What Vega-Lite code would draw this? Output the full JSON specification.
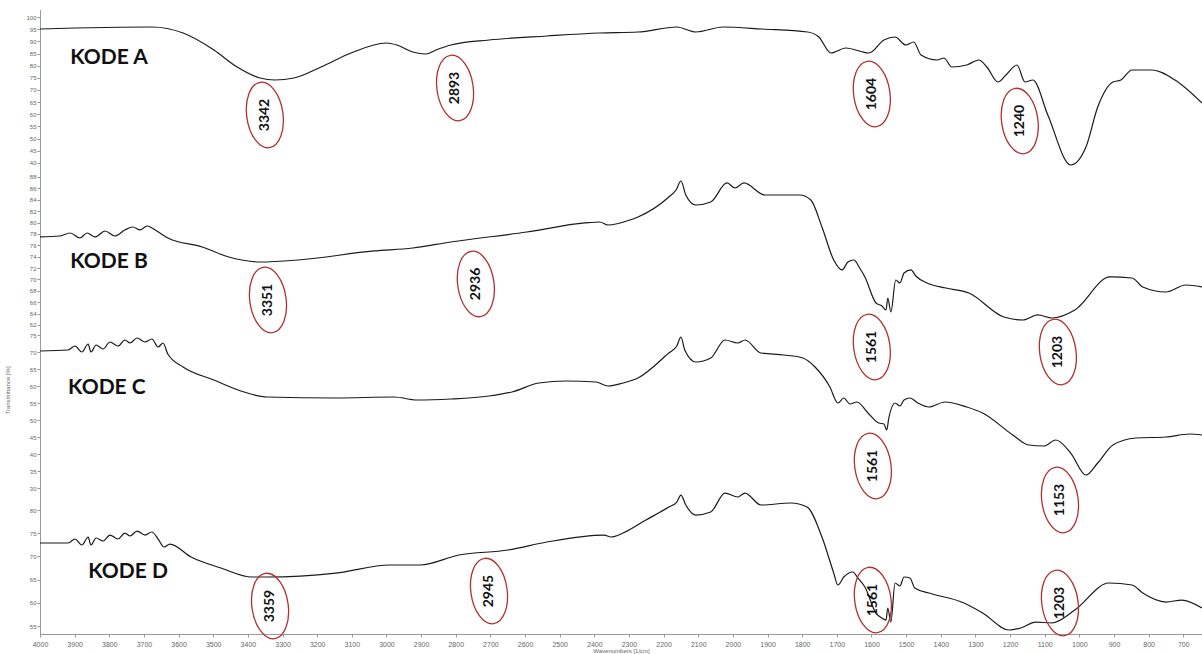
{
  "$schema": "https://vega.github.io/schema/vega-lite/v6.json",
  "width": 1162,
  "height": 624,
  "autosize": {"type": "none"},
  "padding": {"left": 40, "top": 10, "right": 0, "bottom": 20},
  "background": "white",
  "config": {
    "view": {"stroke": null},
    "axis": {"grid": false, "labelFont": "Liberation Sans", "labelColor": "#666", "domainColor": "#999", "tickColor": "#999", "titleFont": "Liberation Sans", "titleColor": "#666", "titleFontWeight": "normal"}
  },
  "datasets": {
    "spectra": [
      {"s":"A","wavenumber":4000,"value":95.07},{"s":"A","wavenumber":3677,"value":95.89},{"s":"A","wavenumber":3587,"value":93.42},{"s":"A","wavenumber":3498,"value":86.44},{"s":"A","wavenumber":3431,"value":79.45},{"s":"A","wavenumber":3365,"value":74.93},{"s":"A","wavenumber":3322,"value":74.11},{"s":"A","wavenumber":3267,"value":74.93},{"s":"A","wavenumber":3189,"value":79.45},{"s":"A","wavenumber":3102,"value":85.2},{"s":"A","wavenumber":3001,"value":89.31},{"s":"A","wavenumber":2970,"value":88.49},{"s":"A","wavenumber":2924,"value":85.61},{"s":"A","wavenumber":2886,"value":84.79},{"s":"A","wavenumber":2857,"value":86.44},{"s":"A","wavenumber":2814,"value":88.49},{"s":"A","wavenumber":2704,"value":90.55},{"s":"A","wavenumber":2537,"value":92.19},{"s":"A","wavenumber":2384,"value":93.42},{"s":"A","wavenumber":2274,"value":93.83},{"s":"A","wavenumber":2162,"value":95.89},{"s":"A","wavenumber":2107,"value":93.83},{"s":"A","wavenumber":2029,"value":95.89},{"s":"A","wavenumber":1916,"value":95.07},{"s":"A","wavenumber":1784,"value":93.83},{"s":"A","wavenumber":1752,"value":91.78},{"s":"A","wavenumber":1717,"value":85.2},{"s":"A","wavenumber":1674,"value":87.26},{"s":"A","wavenumber":1607,"value":85.2},{"s":"A","wavenumber":1564,"value":90.55},{"s":"A","wavenumber":1532,"value":91.78},{"s":"A","wavenumber":1501,"value":88.49},{"s":"A","wavenumber":1478,"value":89.72},{"s":"A","wavenumber":1457,"value":84.38},{"s":"A","wavenumber":1411,"value":82.33},{"s":"A","wavenumber":1391,"value":83.15},{"s":"A","wavenumber":1368,"value":79.45},{"s":"A","wavenumber":1325,"value":80.27},{"s":"A","wavenumber":1290,"value":82.33},{"s":"A","wavenumber":1267,"value":79.45},{"s":"A","wavenumber":1235,"value":73.28},{"s":"A","wavenumber":1212,"value":76.16},{"s":"A","wavenumber":1180,"value":80.27},{"s":"A","wavenumber":1157,"value":73.28},{"s":"A","wavenumber":1134,"value":74.11},{"s":"A","wavenumber":1091,"value":59.72},{"s":"A","wavenumber":1025,"value":39.17},{"s":"A","wavenumber":981,"value":46.57},{"s":"A","wavenumber":947,"value":63.01},{"s":"A","wavenumber":903,"value":73.28},{"s":"A","wavenumber":880,"value":74.11},{"s":"A","wavenumber":848,"value":78.22},{"s":"A","wavenumber":791,"value":78.22},{"s":"A","wavenumber":724,"value":74.11},{"s":"A","wavenumber":646,"value":64.65},

      {"s":"B","wavenumber":4000,"value":77.46},{"s":"B","wavenumber":3942,"value":77.63},{"s":"B","wavenumber":3913,"value":78.16},{"s":"B","wavenumber":3885,"value":77.28},{"s":"B","wavenumber":3864,"value":78.16},{"s":"B","wavenumber":3841,"value":77.46},{"s":"B","wavenumber":3812,"value":78.51},{"s":"B","wavenumber":3784,"value":77.63},{"s":"B","wavenumber":3755,"value":78.69},{"s":"B","wavenumber":3732,"value":79.21},{"s":"B","wavenumber":3711,"value":78.69},{"s":"B","wavenumber":3691,"value":79.39},{"s":"B","wavenumber":3677,"value":79.04},{"s":"B","wavenumber":3654,"value":78.16},{"s":"B","wavenumber":3631,"value":77.28},{"s":"B","wavenumber":3532,"value":75.7},{"s":"B","wavenumber":3455,"value":73.94},{"s":"B","wavenumber":3365,"value":73.06},{"s":"B","wavenumber":3255,"value":73.41},{"s":"B","wavenumber":3036,"value":75.0},{"s":"B","wavenumber":2924,"value":75.52},{"s":"B","wavenumber":2814,"value":76.58},{"s":"B","wavenumber":2595,"value":78.33},{"s":"B","wavenumber":2427,"value":79.92},{"s":"B","wavenumber":2384,"value":80.09},{"s":"B","wavenumber":2361,"value":79.56},{"s":"B","wavenumber":2297,"value":80.44},{"s":"B","wavenumber":2274,"value":80.97},{"s":"B","wavenumber":2185,"value":84.49},{"s":"B","wavenumber":2164,"value":85.72},{"s":"B","wavenumber":2150,"value":87.3},{"s":"B","wavenumber":2136,"value":84.84},{"s":"B","wavenumber":2107,"value":83.08},{"s":"B","wavenumber":2064,"value":83.61},{"s":"B","wavenumber":2017,"value":86.95},{"s":"B","wavenumber":1994,"value":86.07},{"s":"B","wavenumber":1968,"value":86.95},{"s":"B","wavenumber":1908,"value":84.84},{"s":"B","wavenumber":1807,"value":84.84},{"s":"B","wavenumber":1775,"value":83.96},{"s":"B","wavenumber":1743,"value":79.21},{"s":"B","wavenumber":1709,"value":73.41},{"s":"B","wavenumber":1685,"value":71.66},{"s":"B","wavenumber":1668,"value":73.06},{"s":"B","wavenumber":1651,"value":73.41},{"s":"B","wavenumber":1634,"value":72.01},{"s":"B","wavenumber":1619,"value":70.43},{"s":"B","wavenumber":1587,"value":65.86},{"s":"B","wavenumber":1570,"value":65.33},{"s":"B","wavenumber":1558,"value":64.63},{"s":"B","wavenumber":1553,"value":66.73},{"s":"B","wavenumber":1544,"value":64.27},{"s":"B","wavenumber":1530,"value":69.9},{"s":"B","wavenumber":1518,"value":69.37},{"s":"B","wavenumber":1506,"value":71.13},{"s":"B","wavenumber":1486,"value":71.66},{"s":"B","wavenumber":1472,"value":70.6},{"s":"B","wavenumber":1440,"value":69.37},{"s":"B","wavenumber":1385,"value":68.49},{"s":"B","wavenumber":1319,"value":67.61},{"s":"B","wavenumber":1218,"value":63.4},{"s":"B","wavenumber":1163,"value":62.87},{"s":"B","wavenumber":1120,"value":63.75},{"s":"B","wavenumber":1079,"value":63.22},{"s":"B","wavenumber":1013,"value":64.63},{"s":"B","wavenumber":912,"value":70.43},{"s":"B","wavenumber":848,"value":70.25},{"s":"B","wavenumber":817,"value":68.67},{"s":"B","wavenumber":750,"value":67.79},{"s":"B","wavenumber":693,"value":69.02},{"s":"B","wavenumber":646,"value":68.67},

      {"s":"C","wavenumber":4000,"value":70.29},{"s":"C","wavenumber":3919,"value":70.59},{"s":"C","wavenumber":3899,"value":71.76},{"s":"C","wavenumber":3879,"value":70.0},{"s":"C","wavenumber":3861,"value":72.35},{"s":"C","wavenumber":3853,"value":70.0},{"s":"C","wavenumber":3838,"value":72.06},{"s":"C","wavenumber":3818,"value":70.88},{"s":"C","wavenumber":3798,"value":72.94},{"s":"C","wavenumber":3775,"value":71.76},{"s":"C","wavenumber":3755,"value":73.53},{"s":"C","wavenumber":3740,"value":72.65},{"s":"C","wavenumber":3720,"value":74.12},{"s":"C","wavenumber":3697,"value":72.94},{"s":"C","wavenumber":3677,"value":73.82},{"s":"C","wavenumber":3659,"value":71.47},{"s":"C","wavenumber":3645,"value":72.65},{"s":"C","wavenumber":3631,"value":69.41},{"s":"C","wavenumber":3587,"value":65.59},{"s":"C","wavenumber":3498,"value":61.76},{"s":"C","wavenumber":3411,"value":58.24},{"s":"C","wavenumber":3345,"value":56.76},{"s":"C","wavenumber":3146,"value":56.47},{"s":"C","wavenumber":2978,"value":56.76},{"s":"C","wavenumber":2912,"value":55.88},{"s":"C","wavenumber":2814,"value":56.18},{"s":"C","wavenumber":2704,"value":57.06},{"s":"C","wavenumber":2638,"value":58.24},{"s":"C","wavenumber":2560,"value":60.88},{"s":"C","wavenumber":2482,"value":61.47},{"s":"C","wavenumber":2395,"value":61.18},{"s":"C","wavenumber":2361,"value":60.0},{"s":"C","wavenumber":2317,"value":60.88},{"s":"C","wavenumber":2274,"value":62.35},{"s":"C","wavenumber":2185,"value":69.71},{"s":"C","wavenumber":2162,"value":71.76},{"s":"C","wavenumber":2150,"value":74.41},{"s":"C","wavenumber":2139,"value":70.59},{"s":"C","wavenumber":2107,"value":67.06},{"s":"C","wavenumber":2064,"value":68.24},{"s":"C","wavenumber":2023,"value":73.53},{"s":"C","wavenumber":1986,"value":72.65},{"s":"C","wavenumber":1965,"value":73.53},{"s":"C","wavenumber":1919,"value":69.71},{"s":"C","wavenumber":1853,"value":69.12},{"s":"C","wavenumber":1798,"value":68.24},{"s":"C","wavenumber":1763,"value":65.59},{"s":"C","wavenumber":1720,"value":59.71},{"s":"C","wavenumber":1697,"value":55.0},{"s":"C","wavenumber":1680,"value":56.47},{"s":"C","wavenumber":1662,"value":54.71},{"s":"C","wavenumber":1642,"value":55.29},{"s":"C","wavenumber":1610,"value":52.06},{"s":"C","wavenumber":1579,"value":49.12},{"s":"C","wavenumber":1564,"value":48.82},{"s":"C","wavenumber":1556,"value":47.06},{"s":"C","wavenumber":1550,"value":50.59},{"s":"C","wavenumber":1532,"value":55.0},{"s":"C","wavenumber":1518,"value":54.12},{"s":"C","wavenumber":1506,"value":55.88},{"s":"C","wavenumber":1489,"value":56.47},{"s":"C","wavenumber":1466,"value":55.0},{"s":"C","wavenumber":1434,"value":53.82},{"s":"C","wavenumber":1388,"value":55.29},{"s":"C","wavenumber":1325,"value":53.82},{"s":"C","wavenumber":1279,"value":52.06},{"s":"C","wavenumber":1192,"value":45.59},{"s":"C","wavenumber":1146,"value":42.65},{"s":"C","wavenumber":1102,"value":42.35},{"s":"C","wavenumber":1068,"value":44.12},{"s":"C","wavenumber":1025,"value":40.29},{"s":"C","wavenumber":981,"value":33.82},{"s":"C","wavenumber":947,"value":37.35},{"s":"C","wavenumber":903,"value":42.65},{"s":"C","wavenumber":837,"value":44.71},{"s":"C","wavenumber":750,"value":45.0},{"s":"C","wavenumber":681,"value":45.88},{"s":"C","wavenumber":646,"value":45.59},

      {"s":"D","wavenumber":4000,"value":72.89},{"s":"D","wavenumber":3919,"value":72.89},{"s":"D","wavenumber":3899,"value":73.75},{"s":"D","wavenumber":3879,"value":72.46},{"s":"D","wavenumber":3861,"value":74.18},{"s":"D","wavenumber":3853,"value":72.46},{"s":"D","wavenumber":3838,"value":73.97},{"s":"D","wavenumber":3818,"value":73.32},{"s":"D","wavenumber":3798,"value":74.61},{"s":"D","wavenumber":3775,"value":73.75},{"s":"D","wavenumber":3755,"value":75.04},{"s":"D","wavenumber":3740,"value":74.4},{"s":"D","wavenumber":3720,"value":75.47},{"s":"D","wavenumber":3697,"value":74.61},{"s":"D","wavenumber":3677,"value":75.26},{"s":"D","wavenumber":3659,"value":73.75},{"s":"D","wavenumber":3642,"value":72.03},{"s":"D","wavenumber":3625,"value":72.67},{"s":"D","wavenumber":3564,"value":69.87},{"s":"D","wavenumber":3478,"value":67.5},{"s":"D","wavenumber":3388,"value":65.56},{"s":"D","wavenumber":3345,"value":65.56},{"s":"D","wavenumber":3146,"value":66.42},{"s":"D","wavenumber":2990,"value":68.15},{"s":"D","wavenumber":2903,"value":68.15},{"s":"D","wavenumber":2791,"value":70.3},{"s":"D","wavenumber":2649,"value":71.38},{"s":"D","wavenumber":2537,"value":73.1},{"s":"D","wavenumber":2372,"value":74.61},{"s":"D","wavenumber":2352,"value":74.18},{"s":"D","wavenumber":2317,"value":75.04},{"s":"D","wavenumber":2251,"value":77.84},{"s":"D","wavenumber":2185,"value":80.65},{"s":"D","wavenumber":2162,"value":81.72},{"s":"D","wavenumber":2150,"value":83.23},{"s":"D","wavenumber":2136,"value":81.08},{"s":"D","wavenumber":2107,"value":78.92},{"s":"D","wavenumber":2064,"value":79.57},{"s":"D","wavenumber":2023,"value":83.66},{"s":"D","wavenumber":1986,"value":82.8},{"s":"D","wavenumber":1965,"value":83.66},{"s":"D","wavenumber":1919,"value":81.08},{"s":"D","wavenumber":1833,"value":81.51},{"s":"D","wavenumber":1786,"value":80.65},{"s":"D","wavenumber":1743,"value":74.18},{"s":"D","wavenumber":1709,"value":66.42},{"s":"D","wavenumber":1697,"value":63.84},{"s":"D","wavenumber":1680,"value":65.56},{"s":"D","wavenumber":1654,"value":66.64},{"s":"D","wavenumber":1639,"value":65.34},{"s":"D","wavenumber":1619,"value":63.41},{"s":"D","wavenumber":1587,"value":57.8},{"s":"D","wavenumber":1570,"value":56.72},{"s":"D","wavenumber":1558,"value":56.29},{"s":"D","wavenumber":1553,"value":58.88},{"s":"D","wavenumber":1544,"value":55.86},{"s":"D","wavenumber":1532,"value":64.27},{"s":"D","wavenumber":1518,"value":63.62},{"s":"D","wavenumber":1506,"value":65.56},{"s":"D","wavenumber":1489,"value":65.34},{"s":"D","wavenumber":1475,"value":63.19},{"s":"D","wavenumber":1434,"value":62.11},{"s":"D","wavenumber":1333,"value":59.96},{"s":"D","wavenumber":1279,"value":57.8},{"s":"D","wavenumber":1203,"value":54.14},{"s":"D","wavenumber":1169,"value":54.57},{"s":"D","wavenumber":1126,"value":55.86},{"s":"D","wavenumber":1079,"value":55.65},{"s":"D","wavenumber":1013,"value":58.45},{"s":"D","wavenumber":915,"value":64.27},{"s":"D","wavenumber":848,"value":63.84},{"s":"D","wavenumber":817,"value":62.11},{"s":"D","wavenumber":750,"value":60.17},{"s":"D","wavenumber":704,"value":60.6},{"s":"D","wavenumber":646,"value":58.88}
    ],
    "peaks": [
      {"s":"A","wavenumber":3351,"value":59.72,"label":"3342"},
      {"s":"A","wavenumber":2802,"value":70.82,"label":"2893"},
      {"s":"A","wavenumber":1599,"value":68.35,"label":"1604"},
      {"s":"A","wavenumber":1172,"value":57.25,"label":"1240"},
      {"s":"B","wavenumber":3342,"value":66.38,"label":"3351"},
      {"s":"B","wavenumber":2742,"value":69.2,"label":"2936"},
      {"s":"B","wavenumber":1599,"value":58.12,"label":"1561"},
      {"s":"B","wavenumber":1062,"value":57.24,"label":"1203"},
      {"s":"C","wavenumber":1596,"value":36.47,"label":"1561"},
      {"s":"C","wavenumber":1056,"value":26.47,"label":"1153"},
      {"s":"D","wavenumber":3336,"value":59.31,"label":"3359"},
      {"s":"D","wavenumber":2704,"value":62.54,"label":"2945"},
      {"s":"D","wavenumber":1596,"value":60.6,"label":"1561"},
      {"s":"D","wavenumber":1056,"value":59.96,"label":"1203"}
    ],
    "codes": [
      {"s":"A","wavenumber":3913,"value":83.15,"label":"KODE A"},
      {"s":"B","wavenumber":3913,"value":73.06,"label":"KODE B"},
      {"s":"C","wavenumber":3919,"value":59.41,"label":"KODE C"},
      {"s":"D","wavenumber":3861,"value":66.64,"label":"KODE D"}
    ]
  },
  "encoding": {
    "x": {
      "field": "wavenumber", "type": "quantitative",
      "scale": {"domain": [4000, 646], "nice": false, "zero": false},
      "axis": {
        "values": [4000,3900,3800,3700,3600,3500,3400,3300,3200,3100,3000,2900,2800,2700,2600,2500,2400,2300,2200,2100,2000,1900,1800,1700,1600,1500,1400,1300,1200,1100,1000,900,800,700],
        "format": "d",
        "title": "Wavenumbers [1/cm]", "titleFontSize": 6, "titlePadding": 0,
        "labelFontSize": 7, "tickSize": 3, "labelPadding": 3, "labelFlush": false, "labelOverlap": false
      }
    }
  },
  "layer": [
    {
      "encoding": {"y": {"field": "value", "type": "quantitative", "scale": {"domain": [-153.59, 102.88], "nice": false, "zero": false},
        "axis": {"orient": "left", "values": [40,45,50,55,60,65,70,75,80,85,90,95,100], "title": null, "labelFontSize": 6, "tickSize": 3, "labelPadding": 1}}},
      "layer": [
        {"data": {"name": "spectra"}, "transform": [{"filter": "datum.s === 'A'"}], "mark": {"type": "line", "color": "#1a1a1a", "strokeWidth": 1.2, "interpolate": "monotone", "clip": true}, "encoding": {}},
        {"data": {"name": "peaks"}, "transform": [{"filter": "datum.s === 'A'"}], "mark": {"type": "point", "shape": "M0,-1 A0.55,1 0 1,1 0,1 A0.55,1 0 1,1 0,-1 Z", "size": 4356, "filled": false, "stroke": "#b03030", "strokeWidth": 1.3, "opacity": 1, "angle": -8}, "encoding": {}},
        {"data": {"name": "peaks"}, "transform": [{"filter": "datum.s === 'A'"}], "mark": {"type": "text", "angle": 270, "font": "Lato", "fontSize": 14, "fontWeight": "bold", "color": "#111", "align": "center", "baseline": "middle"}, "encoding": {"text": {"field": "label"}}},
        {"data": {"name": "codes"}, "transform": [{"filter": "datum.s === 'A'"}], "mark": {"type": "text", "font": "Lato", "fontSize": 21, "fontWeight": "bold", "color": "#111", "align": "left", "baseline": "middle"}, "encoding": {"text": {"field": "label"}}}
      ]
    },
    {
      "encoding": {"y": {"field": "value", "type": "quantitative", "scale": {"domain": [7.68, 117.35], "nice": false, "zero": false},
        "axis": {"orient": "left", "values": [62,64,66,68,70,72,74,76,78,80,82,84,86,88], "title": null, "labelFontSize": 6, "tickSize": 3, "labelPadding": 1}}},
      "layer": [
        {"data": {"name": "spectra"}, "transform": [{"filter": "datum.s === 'B'"}], "mark": {"type": "line", "color": "#1a1a1a", "strokeWidth": 1.2, "interpolate": "monotone", "clip": true}, "encoding": {}},
        {"data": {"name": "peaks"}, "transform": [{"filter": "datum.s === 'B'"}], "mark": {"type": "point", "shape": "M0,-1 A0.55,1 0 1,1 0,1 A0.55,1 0 1,1 0,-1 Z", "size": 4356, "filled": false, "stroke": "#b03030", "strokeWidth": 1.3, "opacity": 1, "angle": -8}, "encoding": {}},
        {"data": {"name": "peaks"}, "transform": [{"filter": "datum.s === 'B'"}], "mark": {"type": "text", "angle": 270, "font": "Lato", "fontSize": 14, "fontWeight": "bold", "color": "#111", "align": "center", "baseline": "middle"}, "encoding": {"text": {"field": "label"}}},
        {"data": {"name": "codes"}, "transform": [{"filter": "datum.s === 'B'"}], "mark": {"type": "text", "font": "Lato", "fontSize": 21, "fontWeight": "bold", "color": "#111", "align": "left", "baseline": "middle"}, "encoding": {"text": {"field": "label"}}}
      ]
    },
    {
      "encoding": {"y": {"field": "value", "type": "quantitative", "scale": {"domain": [-12.94, 170.59], "nice": false, "zero": false},
        "axis": {"orient": "left", "values": [30,35,40,45,50,55,60,65,70,75], "title": "Transmittance [%]", "titleFontSize": 6, "titleX": -30, "titleY": 380, "labelFontSize": 6, "tickSize": 3, "labelPadding": 1}}},
      "layer": [
        {"data": {"name": "spectra"}, "transform": [{"filter": "datum.s === 'C'"}], "mark": {"type": "line", "color": "#1a1a1a", "strokeWidth": 1.2, "interpolate": "monotone", "clip": true}, "encoding": {}},
        {"data": {"name": "peaks"}, "transform": [{"filter": "datum.s === 'C'"}], "mark": {"type": "point", "shape": "M0,-1 A0.55,1 0 1,1 0,1 A0.55,1 0 1,1 0,-1 Z", "size": 4356, "filled": false, "stroke": "#b03030", "strokeWidth": 1.3, "opacity": 1, "angle": -8}, "encoding": {}},
        {"data": {"name": "peaks"}, "transform": [{"filter": "datum.s === 'C'"}], "mark": {"type": "text", "angle": 270, "font": "Lato", "fontSize": 14, "fontWeight": "bold", "color": "#111", "align": "center", "baseline": "middle"}, "encoding": {"text": {"field": "label"}}},
        {"data": {"name": "codes"}, "transform": [{"filter": "datum.s === 'C'"}], "mark": {"type": "text", "font": "Lato", "fontSize": 21, "fontWeight": "bold", "color": "#111", "align": "left", "baseline": "middle"}, "encoding": {"text": {"field": "label"}}}
      ]
    },
    {
      "encoding": {"y": {"field": "value", "type": "quantitative", "scale": {"domain": [53.28, 187.76], "nice": false, "zero": false},
        "axis": {"orient": "left", "values": [55,60,65,70,75,80], "title": null, "labelFontSize": 6, "tickSize": 3, "labelPadding": 1}}},
      "layer": [
        {"data": {"name": "spectra"}, "transform": [{"filter": "datum.s === 'D'"}], "mark": {"type": "line", "color": "#1a1a1a", "strokeWidth": 1.2, "interpolate": "monotone", "clip": true}, "encoding": {}},
        {"data": {"name": "peaks"}, "transform": [{"filter": "datum.s === 'D'"}], "mark": {"type": "point", "shape": "M0,-1 A0.55,1 0 1,1 0,1 A0.55,1 0 1,1 0,-1 Z", "size": 4356, "filled": false, "stroke": "#b03030", "strokeWidth": 1.3, "opacity": 1, "angle": -8}, "encoding": {}},
        {"data": {"name": "peaks"}, "transform": [{"filter": "datum.s === 'D'"}], "mark": {"type": "text", "angle": 270, "font": "Lato", "fontSize": 14, "fontWeight": "bold", "color": "#111", "align": "center", "baseline": "middle"}, "encoding": {"text": {"field": "label"}}},
        {"data": {"name": "codes"}, "transform": [{"filter": "datum.s === 'D'"}], "mark": {"type": "text", "font": "Lato", "fontSize": 21, "fontWeight": "bold", "color": "#111", "align": "left", "baseline": "middle"}, "encoding": {"text": {"field": "label"}}}
      ]
    }
  ],
  "resolve": {"scale": {"y": "independent"}, "axis": {"y": "independent"}}
}
